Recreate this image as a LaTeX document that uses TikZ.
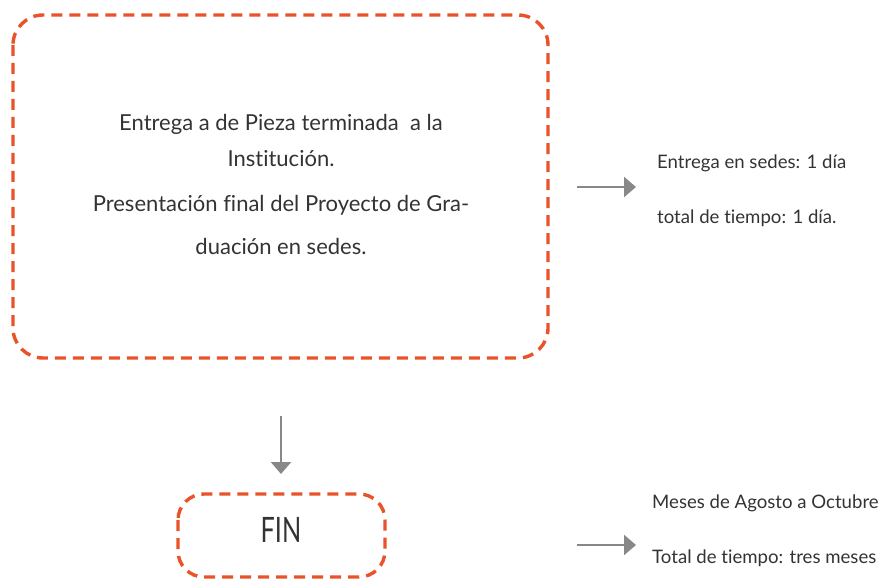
\documentclass[tikz,border=0pt]{standalone}
\usepackage{fontspec}
\setmainfont[Ligatures={NoCommon}]{Lato}
\newfontfamily\narrowfont[FakeStretch=0.72]{Lato}
\usetikzlibrary{arrows.meta}
\definecolor{dorange}{HTML}{E8532A}
\definecolor{agray}{HTML}{888888}
\definecolor{tgray}{HTML}{333333}
\tikzset{
  dashbox/.style={draw=dorange, line width=3.4pt, dash pattern=on 11pt off 7pt, rounded corners=30pt},
  flowarrow/.style={draw=agray, line width=2.4pt, -{Triangle[length=12pt,width=20pt]}, shorten >=0pt},
  bigtxt/.style={text=tgray, font=\fontsize{22}{24}\selectfont, inner sep=0pt, anchor=center},
  sidetxt/.style={text=tgray, font=\fontsize{18.6}{20}\selectfont, inner sep=0pt, anchor=west},
}
\begin{document}
\begin{tikzpicture}[x=1pt,y=-1pt]
\useasboundingbox (0,0) rectangle (883,580);
\draw[dashbox] (13,15) rectangle (548,358);
\node[bigtxt] (l1) at (281,124) {Entrega a de Pieza terminada \ a la};
\node[bigtxt] (l2) at (281,159) {Institución.};
\node[bigtxt] (l3) at (281,205) {Presentación final del Proyecto de Gra-};
\node[bigtxt] (l4) at (281,246) {duación en sedes.};
\coordinate (a1s) at (577,187);
\coordinate (a1e) at (636,187);
\draw[flowarrow] (a1s) -- (a1e);
\node[sidetxt] (r1) at (657,163) {Entrega en sedes: 1 día};
\node[sidetxt] (r2) at (657,218) {total de tiempo: 1 día.};
\coordinate (dS) at (281,416);
\coordinate (dE) at (281,474);
\draw[flowarrow] (dS) -- (dE);
\draw[dashbox, rounded corners=26pt] (178,494) rectangle (385,577);
\node[text=tgray, font=\narrowfont\fontsize{35}{38}\selectfont, inner sep=0pt] (fin) at (281,530) {FIN};
\coordinate (a2s) at (577,545);
\coordinate (a2e) at (636,545);
\draw[flowarrow] (a2s) -- (a2e);
\node[sidetxt] (r3) at (652,503) {Meses de Agosto a Octubre};
\node[sidetxt] (r4) at (652,558) {Total de tiempo: tres meses};
\end{tikzpicture}
\end{document}
